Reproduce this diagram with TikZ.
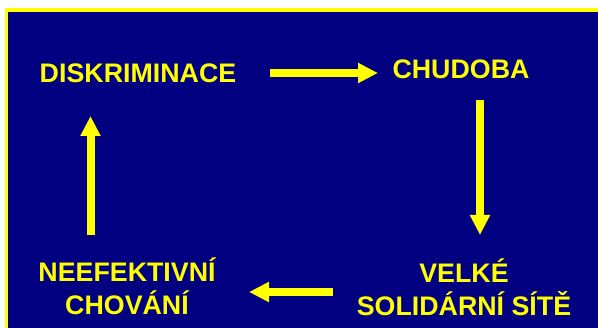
\documentclass[tikz,border=0pt]{standalone}
\usepackage{fontspec}
\setmainfont{Liberation Sans}
\usetikzlibrary{arrows.meta}
\definecolor{navy}{RGB}{0,0,128}
\definecolor{yel}{RGB}{255,255,0}
\begin{document}
\begin{tikzpicture}[x=1pt,y=-1pt,
 lab/.style={text=yel, font=\bfseries\fontsize{26.8}{33.5}\selectfont, inner sep=0pt, align=center, anchor=base},
 arr/.style={draw=yel, line width=8pt, -{Triangle[length=20pt,width=19pt]}}]
\useasboundingbox (0,0) rectangle (598,328);
\fill[white] (0,0) rectangle (598,328);
\begin{scope}
\clip (0,0) rectangle (598,328);
\filldraw[fill=navy, draw=yel, line width=3.3pt] (6.7,10) rectangle (620,350);
\end{scope}
\node[lab] (disk) at (138,83) {DISKRIMINACE};
\node[lab] (chud) at (461,79) {CHUDOBA};
\node[lab] (neef) at (127,315) {NEEFEKTIVNÍ\\CHOVÁNÍ};
\node[lab] (velke) at (464,316) {VELKÉ\\SOLIDÁRNÍ SÍTĚ};
\draw[arr] ([shift={(132,-10)}]disk.base) -- ([shift={(-83,-6)}]chud.base);
\draw[arr] ([shift={(19,21)}]chud.base) -- ([shift={(16,-81)}]velke.base);
\draw[arr] ([shift={(-131,-24)}]velke.base) -- ([shift={(122,-23)}]neef.base);
\draw[arr] ([shift={(-36.5,-80)}]neef.base) -- ([shift={(-47.5,33)}]disk.base);
\end{tikzpicture}
\end{document}
